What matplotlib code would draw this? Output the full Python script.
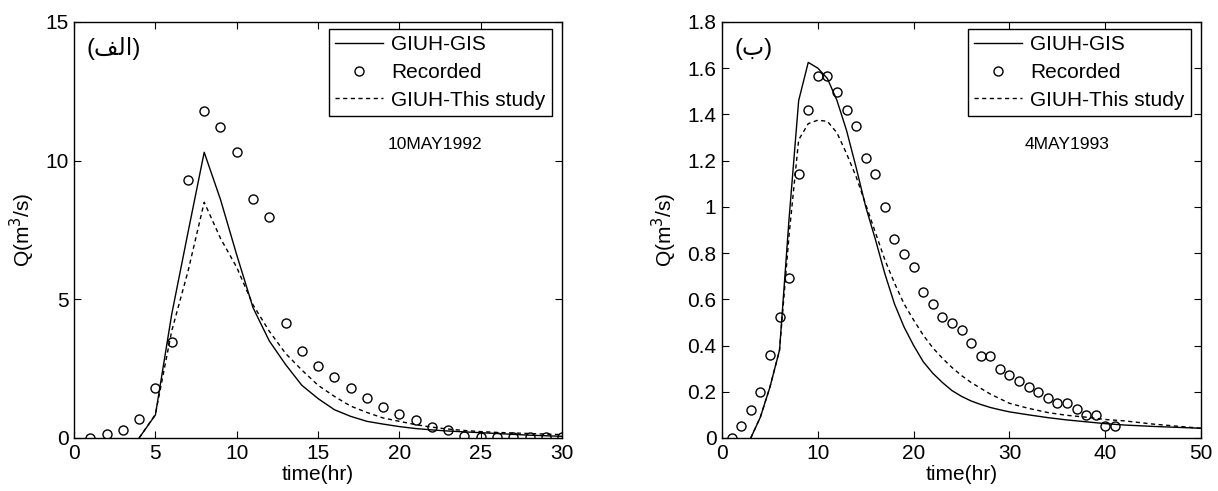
import matplotlib
matplotlib.use("Agg")
import matplotlib.pyplot as plt
from matplotlib.ticker import FormatStrFormatter

plt.rcParams['font.family'] = ['Liberation Sans', 'DejaVu Sans']

# --- event (a): 10MAY1992 ---
t_rec_a = list(range(1, 31))
rec_a = [0.0, 0.15, 0.3, 0.7, 1.8, 3.45, 9.3, 11.8, 11.2, 10.3, 8.6, 7.95, 4.15, 3.15, 2.6,
         2.2, 1.8, 1.45, 1.1, 0.85, 0.65, 0.4, 0.3, 0.08, 0.03, 0.03, 0.03, 0.03, 0.03, 0.03]
t_mod_a = list(range(4, 31))
gis_a = [0, 0.83, 4.45, 7.4, 10.3, 8.6, 6.6, 4.7, 3.5, 2.65, 1.9, 1.42, 1.02, 0.78, 0.6,
         0.5, 0.41, 0.34, 0.29, 0.25, 0.22, 0.19, 0.16, 0.13, 0.1, 0.08, 0.06]
this_a = [0, 0.85, 3.85, 6.0, 8.5, 7.2, 6.15, 4.8, 3.85, 3.05, 2.45, 1.9, 1.5, 1.15, 0.92,
          0.72, 0.6, 0.48, 0.39, 0.32, 0.27, 0.23, 0.2, 0.18, 0.16, 0.14, 0.12]

# --- event (b): 4MAY1993 ---
t_rec_b = list(range(1, 42))
rec_b = [0.0, 0.05, 0.12, 0.2, 0.36, 0.525, 0.69, 1.14, 1.42, 1.567,
         1.567, 1.495, 1.42, 1.35, 1.21, 1.14, 1.0, 0.86, 0.795, 0.74,
         0.633, 0.58, 0.525, 0.496, 0.465, 0.41, 0.356, 0.356, 0.30, 0.273,
         0.248, 0.222, 0.2, 0.175, 0.15, 0.15, 0.124, 0.1, 0.1, 0.052, 0.052]
t_mod_b = list(range(3, 31)) + [32, 34, 36, 38, 40, 42, 45, 50]
gis_b = [0, 0.09, 0.22, 0.38, 0.95, 1.46, 1.625, 1.6, 1.555, 1.46, 1.33, 1.17, 1.0, 0.86,
         0.71, 0.58, 0.48, 0.40, 0.33, 0.28, 0.24, 0.205, 0.18, 0.16, 0.145, 0.132, 0.122,
         0.113, 0.1, 0.088, 0.078, 0.07, 0.062, 0.056, 0.05, 0.042]
this_b = [0, 0.09, 0.22, 0.38, 0.88, 1.29, 1.36, 1.375, 1.37, 1.32, 1.23, 1.13, 1.01, 0.89,
          0.77, 0.67, 0.58, 0.51, 0.445, 0.39, 0.345, 0.305, 0.27, 0.24, 0.215, 0.19, 0.17,
          0.15, 0.128, 0.11, 0.098, 0.09, 0.08, 0.074, 0.06, 0.042]

panels = [
    dict(t_rec=t_rec_a, rec=rec_a, t_mod=t_mod_a, gis=gis_a, this=this_a,
         xlim=(0, 30), xticks=range(0, 31, 5), ylim=(0, 15), yticks=[0, 5, 10, 15],
         tag='(\ufed2\ufedf\ufe8d)', date='10MAY1992', date_x=0.74),
    dict(t_rec=t_rec_b, rec=rec_b, t_mod=t_mod_b, gis=gis_b, this=this_b,
         xlim=(0, 50), xticks=range(0, 51, 10), ylim=(0, 1.8),
         yticks=[0, 0.2, 0.4, 0.6, 0.8, 1, 1.2, 1.4, 1.6, 1.8],
         tag='(\ufe8f)', date='4MAY1993', date_x=0.72),
]

fig = plt.figure(figsize=(12.18, 4.91), dpi=100)
rects = [[0.0608, 0.108, 0.4007, 0.8473], [0.5928, 0.108, 0.3933, 0.8473]]

for p, r in zip(panels, rects):
    ax = fig.add_axes(r)
    ax.plot(p['t_mod'], p['gis'], color='black', lw=1.0, label='GIUH-GIS')
    ax.plot(p['t_rec'], p['rec'], ls='none', marker='o', ms=6.5, mfc='none',
            mec='black', mew=1.0, label='Recorded')
    ax.plot(p['t_mod'], p['this'], color='black', lw=1.0, ls=(0, (3, 2.5)),
            label='GIUH-This study')
    ax.set_xlim(p['xlim'])
    ax.set_ylim(p['ylim'])
    ax.set_xticks(list(p['xticks']))
    ax.set_yticks(p['yticks'])
    ax.yaxis.set_major_formatter(FormatStrFormatter('%g'))
    ax.tick_params(direction='in', top=True, right=True, length=5, labelsize=15, pad=4)
    for s in ax.spines.values():
        s.set_linewidth(1.0)
    ax.set_xlabel('time(hr)', fontsize=15, labelpad=2)
    ax.set_ylabel('Q(m$^3$/s)', fontsize=15, labelpad=6)

    # legend box: right edge ~10 px inside the axes, top ~7 px below
    w_px = r[2] * 1218
    leg = ax.legend(loc='upper right', fontsize=15, numpoints=1, handlelength=2.3,
                    handletextpad=0.4, borderpad=0.3, labelspacing=0.42,
                    borderaxespad=0, fancybox=False, framealpha=1, edgecolor='black',
                    bbox_to_anchor=(1 - 10 / w_px, 1 - 7 / 416))
    leg.get_frame().set_linewidth(1.0)

    ax.text(p['date_x'], 0.705, p['date'],
            transform=ax.transAxes, fontsize=12.5, ha='center', va='center')
    ax.text(0.025, 0.935, p['tag'], transform=ax.transAxes, fontsize=17,
            ha='left', va='center', family=['Liberation Sans', 'DejaVu Sans'])

fig.savefig('out.png', dpi=100)
